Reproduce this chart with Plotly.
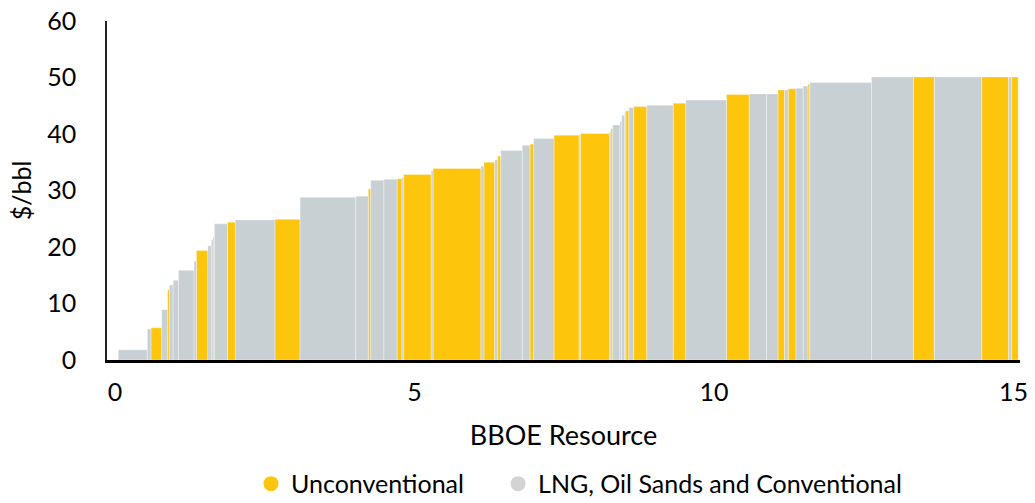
import numpy as np
import plotly.graph_objects as go

# ---- data ----
resource_start = 0.055  # BBOE before first project
widths = [0.485, 0.06, 0.18, 0.10, 0.03, 0.06, 0.09, 0.26, 0.04, 0.19,
          0.06, 0.03, 0.02, 0.22, 0.13, 0.66, 0.42, 0.93, 0.21, 0.04,
          0.22, 0.22, 0.08, 0.03, 0.46, 0.03, 0.80, 0.05, 0.18, 0.05,
          0.05, 0.36, 0.13, 0.06, 0.34, 0.42, 0.02, 0.49, 0.02, 0.03,
          0.12, 0.03, 0.05, 0.02, 0.05, 0.08, 0.22, 0.44, 0.21, 0.68,
          0.38, 0.29, 0.19, 0.11, 0.06, 0.13, 0.12, 0.08, 0.03, 1.03,
          0.70, 0.35, 0.79, 0.45, 0.05, 0.11]
costs = [1.8, 5.5, 5.7, 8.9, 12.4, 13.3, 14.1, 15.9, 17.5, 19.4,
         20.2, 21.3, 21.8, 24.1, 24.4, 24.8, 24.9, 28.8, 29.0, 30.3,
         31.8, 32.0, 32.1, 32.3, 32.85, 33.5, 33.9, 34.3, 35.0, 35.4,
         36.1, 37.1, 38.0, 38.2, 39.2, 39.8, 40.0, 40.1, 40.5, 40.95,
         41.6, 42.2, 43.3, 44.0, 44.1, 44.7, 44.85, 45.1, 45.45, 46.0,
         47.0, 47.1, 47.1, 47.8, 47.8, 48.0, 48.1, 48.5, 48.8, 49.1,
         50.1, 50.1, 50.1, 50.1, 50.1, 50.1]
kinds = list("GGUGUGGGGU" "GGUGUGUGGU" "GGUGUGUGUG" "UGGUGUGUGU"
             "GGGGUGUGUG" "UGGUGUGGUG" "GUGUGU")

series_names = {"U": "Unconventional", "G": "LNG, Oil Sands and Conventional"}
bar_colors = {"U": "#FDC60D", "G": "#C9D0D4"}
legend_colors = {"U": "#FDC60D", "G": "#D3D3D3"}

x_ticks = [0, 5, 10, 15]
y_ticks = [0, 10, 20, 30, 40, 50, 60]

# ---- derived geometry from data ----
w = np.array(widths)
left = resource_start + np.concatenate([[0], np.cumsum(w)[:-1]])
center = left + w / 2
k = np.array(kinds)
c = np.array(costs)

FONT = "Lato"
fig = go.Figure()
for key in ["U", "G"]:
    m = k == key
    fig.add_trace(go.Bar(
        x=center[m], y=c[m], width=w[m],
        marker=dict(color=bar_colors[key],
                    line=dict(color="rgba(255,255,255,0.55)", width=0.6)),
        name=series_names[key], showlegend=False,
    ))
for key, lg in [("U", "legend"), ("G", "legend2")]:
    fig.add_trace(go.Scatter(
        x=[None], y=[None], mode="markers", name=series_names[key],
        legend=lg,
        marker=dict(symbol="circle", size=15, color=legend_colors[key]),
    ))

legend_common = dict(orientation="h", xref="container", yref="container",
                     xanchor="left", y=0.038, yanchor="middle",
                     font=dict(size=25), itemwidth=30,
                     bgcolor="rgba(0,0,0,0)")

fig.update_layout(
    width=1035, height=503,
    margin=dict(l=107, r=15, t=21, b=143),
    plot_bgcolor="white", paper_bgcolor="white",
    barmode="overlay",
    font=dict(family=FONT, color="#000000", size=24),
    showlegend=True,
    legend=dict(x=0.2425, **legend_common),
    legend2=dict(x=0.4812, **legend_common),
)
fig.update_xaxes(
    range=[-0.133, 15.11], tickvals=x_ticks, showgrid=False, zeroline=False,
    showline=True, linecolor="#000000", linewidth=2.5, ticks="",
    ticklabelstandoff=8, tickfont=dict(size=25), automargin=False,
    title=dict(text="BBOE Resource", font=dict(size=27), standoff=22),
)
fig.update_yaxes(
    range=[0, 60], tickvals=y_ticks, showgrid=False, zeroline=False,
    showline=True, linecolor="#222222", linewidth=1.5, ticks="",
    ticklabelstandoff=24, tickfont=dict(size=25), automargin=False,
    title=dict(text="$/bbl", font=dict(size=25), standoff=8),
)

fig.write_html("out.html",
               config={"displayModeBar": False},
               post_script="document.body.style.margin='0';"
                           "document.body.style.overflow='hidden';")
